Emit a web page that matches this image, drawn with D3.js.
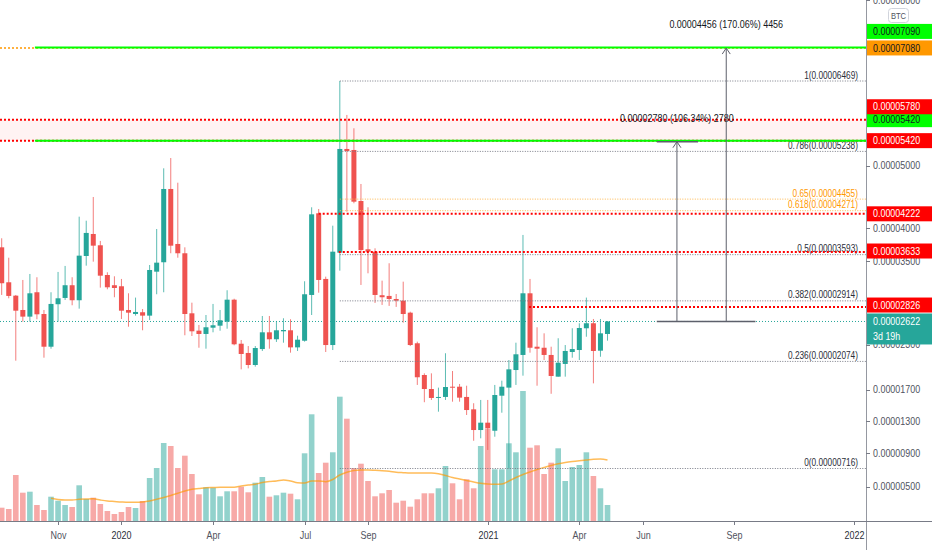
<!DOCTYPE html>
<html>
<head>
<meta charset="utf-8">
<script src="https://cdn.jsdelivr.net/npm/d3@7"></script>
<style>
  body { margin: 0; background: #fff; }
  text { font-family: "Liberation Sans", Arial, sans-serif; }
</style>
</head>
<body>
<div id="chart"></div>
<script>
// weekly candles, prices in satoshi (1e-8 BTC)
var weeks = d3.utcMonday.range(new Date(Date.UTC(2019, 8, 2)), new Date(Date.UTC(2021, 3, 27)));

var opens  = [3704,3183,2989,2784,2690,3038,2727,2273,2866,2956,3140,2923,3573,3908,3735,3290,3140,3125,2784,2727,2752,2704,3339,3479,4618,3755,3614,2737,2494,2448,2535,2563,2619,2931,2314,2188,2026,2241,2471,2375,2485,2499,2264,2355,2999,4230,3232,2296,3623,5279,5262,4425,3674,3638,2995,2985,2941,2917,2746,2320,1893,1709,1597,1606,1739,1739,1606,1447,1186,1278,1177,1622,1727,1959,2161,3023,2273,2259,2161,1871,2040,2201,2228,2527,2597,2219,2448];
var highs  = [3842,3547,2999,3217,3305,3257,2784,3038,3335,3424,3257,4177,4114,4489,3801,3330,3271,3232,3023,2961,2798,3438,3985,4956,5127,4720,3704,2888,2573,2713,2870,2784,3067,2945,2365,2282,2282,2699,2699,2625,2667,2653,2424,3198,4325,4298,3266,4036,6469,5864,5632,4699,4325,3689,3207,3464,3013,3192,2760,2342,1915,1915,1727,2184,1946,1775,1752,1525,1567,1567,1762,1818,2093,2328,3893,3232,2541,2457,2273,2389,2296,2527,2597,2961,2657,2657,2629];
var lows   = [2999,2951,2084,2619,2619,2653,2124,2246,2619,2927,2851,2803,3428,3488,3105,3081,2966,2657,2549,2704,2499,2643,3009,3038,3614,3547,2430,2420,2259,2246,2471,2493,2521,2292,1968,1981,2004,2215,2246,2338,2328,2192,2215,2342,2713,3032,2201,2228,3354,4255,4389,3144,3315,2884,2856,2842,2828,2605,2282,1762,1538,1567,1417,1567,1545,1545,1375,1053,1083,940,1103,1404,716,1762,1884,2192,1752,2093,1647,1871,1871,2124,2093,2410,1783,2137,2356];
var closes = [3169,2985,2774,2690,3023,2723,2273,2870,2951,3140,2923,3578,3924,3729,3280,3110,3100,2774,2746,2756,2704,3364,3473,4618,3729,3614,2727,2485,2448,2541,2569,2639,2931,2306,2174,2026,2255,2471,2375,2499,2503,2264,2369,3009,4214,3217,2296,3638,5279,5245,4414,3663,3638,2999,2966,2941,2917,2727,2296,1863,1709,1593,1606,1735,1726,1597,1438,1186,1278,1211,1631,1739,1968,2170,3023,2259,2246,2161,1880,2057,2215,2241,2531,2597,2215,2457,2622];
var volumes = [133,120,460,283,293,160,110,243,203,160,140,357,220,233,170,100,70,90,140,130,200,430,530,780,750,530,653,470,267,337,333,247,297,297,343,287,383,440,243,257,283,273,217,677,1067,480,583,687,1243,1023,530,573,400,247,277,310,183,203,143,217,277,277,327,550,377,217,417,327,750,927,517,517,777,687,1300,733,757,470,583,727,400,540,560,687,450,327,160];
var volumeMA = [null,null,null,null,null,null,null,227,215,210,210,217,220,222,210,200,195,190,187,187,190,200,217,235,255,277,300,317,325,333,335,337,337,337,350,360,367,385,395,400,410,400,383,380,400,400,393,415,460,487,505,510,510,507,503,497,487,483,480,480,480,480,473,455,435,420,405,390,377,370,367,370,400,435,465,490,515,535,555,572,585,595,603,610,617,620,610];

// price axis
var priceTicks = [8000,5000,4000,3500,2300,1700,1300,900,500];

// fibonacci retracement (drawn from the Aug 2020 high)
var fibStart = "2020-08-03";
var fibLevels = ["1","0.786","0.65","0.618","0.5","0.382","0.236","0"];
var fibValues = [6469,5238,4455,4271,3593,2914,2074,716];

// horizontal levels
var zoneTop = 5780, zoneBottom = 5420;
var greenLineValues = [7090, 5420];
var greenLineStart = "2019-10-05";
var redLineValues = [5780, 5420, 4222, 3633, 2826];
var redLineStarts = [null, null, "2020-07-13", "2020-08-02", "2021-02-07"];
var orangeLineValue = 7080;
var lastPrice = 2622;

// price range measurements
var measureBase = 2622;
var measureBaseDates = ["2021-06-14", "2021-09-20"];
var measureDates = ["2021-07-04", "2021-08-22"];
var measureCapEnd = "2021-07-25";
var measureDiffs = [2780, 4456];
var measureLabels = ["0.00002780 (106.34%) 2780", "0.00004456 (170.06%) 4456"];

// time axis
var timeTickDates = ["2019-10-28","2019-12-30","2020-03-30","2020-06-29","2020-08-31","2020-12-28","2021-03-29","2021-05-31","2021-08-30","2021-12-27"];
var timeTickLabels = ["Nov","2020","Apr","Jul","Sep","2021","Apr","Jun","Sep","2022"];

// price-axis tags
var tagValues = [7090, 7080, 5420, 5780, 5420, 4222, 3633, 2826];
var tagColors = ["#00ff00","#ff9800","#00ff00","#ff0000","#ff0000","#ff0000","#ff0000","#ff0000"];
var tagText   = ["#131722","#131722","#131722","#ffffff","#ffffff","#ffffff","#ffffff","#ffffff"];
var tagShift  = [-16, 0, -21, -13, 0, 0, -1, -2];

//---------------------------------------------
var W = 932, H = 550, axisX = 866, axisY = 521;
var green = "#26a69a", red = "#ef5350";
var parse = d3.utcParse("%Y-%m-%d");
var fmt = function(v){ return (v * 1e-8).toFixed(8); };

// squeeze text horizontally, the chart font is narrower than Liberation
function narrow(sel, f){
    sel.each(function(){
        var w = this.getComputedTextLength();
        d3.select(this).attr("textLength", w * f).attr("lengthAdjust", "spacingAndGlyphs");
    });
    return sel;
}

var svg = d3.select("#chart").append("svg")
    .attr("width", W).attr("height", H);

var x = d3.scaleUtc()
    .domain([weeks[0], weeks[weeks.length - 1]])
    .range([1.7, 607.5]);
var y = d3.scaleSymlog().constant(10400)
    .domain([716, 6469])
    .range([468.5, 81]);
var yVol = d3.scaleLinear().domain([0, 1300]).range([axisY, 391]);

svg.append("clipPath").attr("id", "pane")
  .append("rect").attr("x", 0).attr("y", 0).attr("width", axisX).attr("height", axisY);

var pane = svg.append("g").attr("clip-path", "url(#pane)");

// shaded zone
pane.append("rect")
    .attr("x", 0).attr("width", axisX)
    .attr("y", y(zoneTop)).attr("height", y(zoneBottom) - y(zoneTop))
    .attr("fill", "#fff3f3");

// volume
pane.selectAll(".vol").data(weeks).enter().append("rect")
    .attr("x", function(d){ return x(d) - 2.8; })
    .attr("width", 5.6)
    .attr("y", function(d, i){ return yVol(volumes[i]); })
    .attr("height", function(d, i){ return axisY - yVol(volumes[i]); })
    .attr("fill", function(d, i){ return closes[i] >= opens[i] ? green : red; })
    .attr("opacity", 0.5);

var maLine = d3.line()
    .defined(function(d, i){ return volumeMA[i] != null; })
    .x(function(d){ return x(d); })
    .y(function(d, i){ return yVol(volumeMA[i]); })
    .curve(d3.curveMonotoneX);
pane.append("path").datum(weeks)
    .attr("d", maLine)
    .attr("fill", "none")
    .attr("stroke", "#ff9800").attr("stroke-opacity", 0.65)
    .attr("stroke-width", 1.5);

// current price line
pane.append("line")
    .attr("x1", 0).attr("x2", axisX)
    .attr("y1", y(lastPrice)).attr("y2", y(lastPrice))
    .attr("stroke", green).attr("stroke-dasharray", "1,2");

// candles
var candles = pane.selectAll(".candle").data(weeks).enter().append("g");
candles.append("line")
    .attr("x1", function(d){ return x(d); }).attr("x2", function(d){ return x(d); })
    .attr("y1", function(d, i){ return y(highs[i]); })
    .attr("y2", function(d, i){ return y(lows[i]); })
    .attr("stroke", function(d, i){ return closes[i] >= opens[i] ? green : red; })
    .attr("stroke-opacity", 0.75);
candles.append("rect")
    .attr("x", function(d){ return x(d) - 2.5; })
    .attr("width", 5)
    .attr("y", function(d, i){ return y(Math.max(opens[i], closes[i])); })
    .attr("height", function(d, i){ return Math.max(1, y(Math.min(opens[i], closes[i])) - y(Math.max(opens[i], closes[i]))); })
    .attr("fill", function(d, i){ return closes[i] >= opens[i] ? green : red; });

// fibonacci
var fibX = x(parse(fibStart));
fibValues.forEach(function(v, k){
    var orange = fibLevels[k] == "0.65" || fibLevels[k] == "0.618";
    pane.append("line")
        .attr("x1", fibX).attr("x2", axisX)
        .attr("y1", y(v)).attr("y2", y(v))
        .attr("stroke", orange ? "#ffb74d" : "#787b86")
        .attr("stroke-dasharray", "1,1.5");
    narrow(pane.append("text")
        .attr("x", 858).attr("y", y(v) - 2.5)
        .attr("text-anchor", "end")
        .attr("font-size", 11.5)
        .attr("fill", orange ? "#ff9800" : "#2a2e39")
        .text(fibLevels[k] + "(" + fmt(v) + ")"), 0.72);
});

// orange dotted level
pane.append("line")
    .attr("x1", 0).attr("x2", axisX)
    .attr("y1", y(orangeLineValue)).attr("y2", y(orangeLineValue))
    .attr("stroke", "#ff9800").attr("stroke-width", 1.5).attr("stroke-dasharray", "2,2");

// red dotted levels
redLineValues.forEach(function(v, k){
    var sx = redLineStarts[k] ? x(parse(redLineStarts[k])) : 0;
    pane.append("line")
        .attr("x1", sx).attr("x2", axisX)
        .attr("y1", y(v)).attr("y2", y(v))
        .attr("stroke", "#ff0000").attr("stroke-width", 2).attr("stroke-dasharray", "2,2");
});

// green levels
greenLineValues.forEach(function(v){
    pane.append("line")
        .attr("x1", x(parse(greenLineStart))).attr("x2", axisX)
        .attr("y1", y(v)).attr("y2", y(v))
        .attr("stroke", "#00ff00").attr("stroke-width", 2);
});

// measurements
var mStroke = "#5d606b";
pane.append("line")
    .attr("x1", x(parse(measureBaseDates[0]))).attr("x2", x(parse(measureBaseDates[1])))
    .attr("y1", y(measureBase)).attr("y2", y(measureBase))
    .attr("stroke", mStroke).attr("stroke-width", 1.5);
measureDates.forEach(function(dt, k){
    var mx = x(parse(dt)), top = y(measureBase + measureDiffs[k]);
    pane.append("line")
        .attr("x1", mx).attr("x2", mx)
        .attr("y1", y(measureBase)).attr("y2", top)
        .attr("stroke", mStroke);
    pane.append("path")
        .attr("d", "M" + (mx - 4) + "," + (top + 6) + "L" + mx + "," + top + "L" + (mx + 4) + "," + (top + 6))
        .attr("fill", "none").attr("stroke", mStroke);
    if (k == 0) {
        pane.append("line")
            .attr("x1", x(parse(measureBaseDates[0]))).attr("x2", x(parse(measureCapEnd)))
            .attr("y1", top).attr("y2", top)
            .attr("stroke", mStroke).attr("stroke-width", 1.5);
    }
    narrow(pane.append("text")
        .attr("x", mx).attr("y", top - 20)
        .attr("text-anchor", "middle")
        .attr("font-size", 11.5)
        .attr("fill", "#131722")
        .text(measureLabels[k]), 0.78);
});

// axes lines
svg.append("line").attr("x1", axisX + 0.5).attr("x2", axisX + 0.5).attr("y1", 0).attr("y2", H)
    .attr("stroke", "#9598a1");
svg.append("line").attr("x1", 0).attr("x2", W).attr("y1", axisY + 0.5).attr("y2", axisY + 0.5)
    .attr("stroke", "#787b86");

// price ticks
var pt = svg.append("g");
priceTicks.forEach(function(v){
    pt.append("line").attr("x1", axisX).attr("x2", axisX + 4)
        .attr("y1", Math.round(y(v)) + 0.5).attr("y2", Math.round(y(v)) + 0.5)
        .attr("stroke", "#787b86");
    narrow(pt.append("text").attr("x", 873).attr("y", y(v))
        .attr("dy", "0.35em").attr("font-size", 10.5).attr("fill", "#50535e")
        .text(fmt(v)), 0.85);
});

// BTC box
svg.append("rect").attr("x", 888.5).attr("y", 8.5).attr("width", 20).attr("height", 14).attr("rx", 3)
    .attr("fill", "#fff").attr("stroke", "#d1d4dc");
narrow(svg.append("text").attr("x", 898.5).attr("y", 15.5).attr("dy", "0.35em").attr("text-anchor", "middle")
    .attr("font-size", 9.5).attr("fill", "#50535e").text("BTC"), 0.8);

// tags
tagValues.forEach(function(v, k){
    var cy = y(v) + tagShift[k];
    svg.append("rect").attr("x", axisX + 1).attr("y", cy - 7.5).attr("width", W - axisX - 1).attr("height", 15)
        .attr("fill", tagColors[k]);
    narrow(svg.append("text").attr("x", 873).attr("y", cy).attr("dy", "0.35em")
        .attr("font-size", 10.5).attr("fill", tagText[k]).text(fmt(v)), 0.85);
});
var lp = y(lastPrice);
svg.append("rect").attr("x", axisX + 1).attr("y", lp - 8).attr("width", W - axisX - 1).attr("height", 31)
    .attr("fill", green);
narrow(svg.append("text").attr("x", 873).attr("y", lp).attr("dy", "0.35em")
    .attr("font-size", 10.5).attr("fill", "#fff").text(fmt(lastPrice)), 0.85);
narrow(svg.append("text").attr("x", 873).attr("y", lp + 15).attr("dy", "0.35em")
    .attr("font-size", 10.5).attr("fill", "#fff").text("3d 19h"), 0.85);

// time axis
timeTickDates.forEach(function(s, k){
    var tx = Math.round(x(parse(s))) + 0.5;
    var isYear = /^\d{4}$/.test(timeTickLabels[k]);
    svg.append("line").attr("x1", tx).attr("x2", tx).attr("y1", axisY).attr("y2", axisY + 4)
        .attr("stroke", "#787b86");
    narrow(svg.append("text").attr("x", tx).attr("y", 535).attr("dy", "0.35em")
        .attr("text-anchor", "middle").attr("font-size", 11.5)
        .attr("fill", isYear ? "#2a2e39" : "#50535e")
        .text(timeTickLabels[k]), 0.78);
});
</script>
</body>
</html>
